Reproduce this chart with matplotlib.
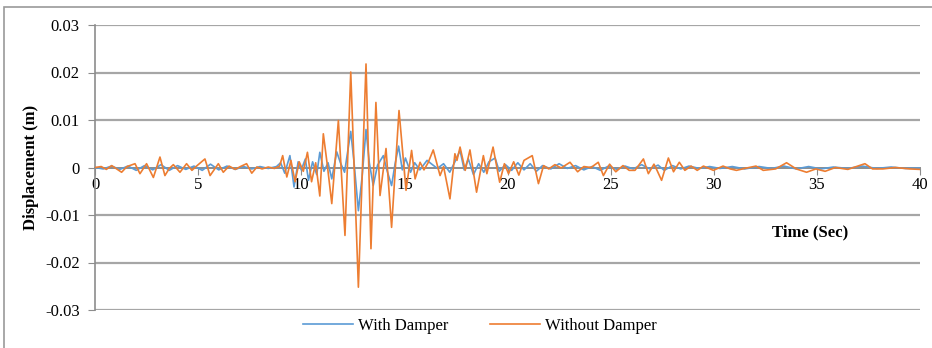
import matplotlib
matplotlib.use("Agg")
import matplotlib.pyplot as plt
import matplotlib.patches as mpatches

plt.rcParams['font.family'] = ['Liberation Serif', 'DejaVu Serif']

# Without damper (orange), extrema
t_without = [
    0.0, 0.3, 0.55, 0.81, 1.05, 1.29, 1.55, 1.94, 2.18, 2.5, 2.83, 3.15, 3.39, 3.6,
    3.8, 4.12, 4.44, 4.7, 4.95, 5.33, 5.58, 5.98, 6.22, 6.5, 6.8, 7.05, 7.35, 7.6,
    7.85, 8.1, 8.4, 8.7, 8.95, 9.1, 9.3, 9.5, 9.7, 9.9, 10.1, 10.3, 10.5, 10.7,
    10.9, 11.07, 11.25, 11.48, 11.8, 12.12, 12.4, 12.77, 13.14, 13.38, 13.62, 13.82,
    14.11, 14.38, 14.74, 15.08, 15.35, 15.52, 15.76, 15.95, 16.15, 16.4, 16.73, 16.9,
    17.21, 17.45, 17.55, 17.7, 17.95, 18.18, 18.5, 18.83, 19.0, 19.3, 19.62, 19.85,
    20.05, 20.3, 20.55, 20.8, 21.2, 21.5, 21.75, 22.0, 22.3, 22.6, 23.03, 23.4,
    23.7, 24.05, 24.4, 24.65, 24.95, 25.25, 25.6, 25.9, 26.18, 26.59, 26.83, 27.1,
    27.25, 27.47, 27.8, 28.05, 28.33, 28.6, 28.9, 29.2, 29.5, 29.98, 30.45, 30.8,
    31.1, 31.6, 32.05, 32.4, 33.0, 33.53, 34.0, 34.5, 34.95, 35.4, 35.9, 36.5,
    37.33, 37.7, 38.2, 38.8, 39.5, 40.0,
]
d_without = [
    0.0, 0.0002, -0.0004, 0.0004, -0.0003, -0.0010, 0.0002, 0.0008, -0.0013, 0.0008,
    -0.0021, 0.0022, -0.0017, -0.0002, 0.0006, -0.0010, 0.0008, -0.0006, 0.0004,
    0.0018, -0.0017, 0.0008, -0.0010, 0.0003, -0.0004, 0.0002, 0.0008, -0.0012,
    0.0001, -0.0003, 0.0001, -0.0002, 0.0003, 0.0025, -0.0020, 0.0015, -0.0030,
    0.0012, -0.0008, 0.0032, -0.0030, 0.0010, -0.0060, 0.0071, 0.0010, -0.0076,
    0.0099, -0.0143, 0.0201, -0.0252, 0.0218, -0.0171, 0.0137, -0.0059, 0.0040,
    -0.0126, 0.0120, -0.0048, 0.0036, -0.0024, 0.0011, -0.0005, 0.0010, 0.0037,
    -0.0017, 0.0002, -0.0066, 0.0029, 0.0015, 0.0043, -0.0006, 0.0037, -0.0052,
    0.0025, -0.0013, 0.0043, -0.0031, 0.0008, -0.0013, 0.0012, -0.0016, 0.0015,
    0.0025, -0.0034, 0.0004, -0.0003, 0.0006, -0.0001, 0.0011, -0.0009, 0.0002,
    0.0000, 0.0011, -0.0017, 0.0007, -0.0009, 0.0004, -0.0006, -0.0006, 0.0018,
    -0.0013, 0.0007, -0.0006, -0.0027, 0.0020, -0.0009, 0.0011, -0.0006, 0.0003,
    -0.0006, 0.0003, -0.0006, 0.0003, -0.0003, -0.0006, -0.0001, 0.0003, -0.0006,
    -0.0003, 0.0010, -0.0003, -0.0010, -0.0003, -0.0008, 0.0000, -0.0004, 0.0008,
    -0.0003, -0.0003, 0.0000, -0.0003, -0.0004,
]

# With damper (blue)
t_with = [
    0.0, 0.4, 0.8, 1.2, 1.6, 2.0, 2.4, 2.8, 3.2, 3.6, 4.0, 4.4, 4.8, 5.2, 5.6, 6.0,
    6.4, 6.8, 7.2, 7.6, 8.0, 8.4, 8.8, 9.0, 9.2, 9.45, 9.65, 9.85, 10.0, 10.2, 10.35,
    10.55, 10.75, 10.9, 11.1, 11.3, 11.48, 11.72, 11.9, 12.1, 12.4, 12.55, 12.77,
    12.95, 13.14, 13.3, 13.49, 13.7, 13.98, 14.15, 14.38, 14.55, 14.72, 14.9, 15.05,
    15.3, 15.5, 15.75, 16.1, 16.3, 16.6, 16.9, 17.2, 17.45, 17.7, 17.9, 18.1, 18.35,
    18.6, 18.85, 19.1, 19.4, 19.6, 19.9, 20.2, 20.5, 20.8, 21.1, 21.4, 21.7, 22.1,
    22.5, 22.9, 23.3, 23.7, 24.1, 24.5, 24.9, 25.3, 25.7, 26.1, 26.5, 26.9, 27.3,
    27.6, 28.0, 28.4, 28.8, 29.3, 29.8, 30.3, 30.9, 31.5, 32.2, 32.8, 33.4, 34.0,
    34.6, 35.2, 35.8, 36.5, 37.2, 37.9, 38.6, 39.3, 40.0,
]
d_with = [
    0.0, -0.0003, 0.0003, -0.0004, 0.0003, -0.0006, 0.0004, -0.0005, 0.0006, -0.0006,
    0.0004, -0.0004, 0.0003, -0.0006, 0.0007, -0.0005, 0.0003, -0.0004, 0.0002,
    -0.0003, 0.0002, -0.0002, 0.0002, 0.0010, -0.0012, 0.0025, -0.0041, 0.0012,
    -0.0005, 0.0018, -0.0027, 0.0012, -0.0015, 0.0032, -0.0008, 0.0010, -0.0024,
    0.0033, 0.0010, -0.0010, 0.0076, 0.0015, -0.0091, -0.0020, 0.0080, 0.0010,
    -0.0038, 0.0005, 0.0025, -0.0005, -0.0038, 0.0008, 0.0045, -0.0005, 0.0020,
    -0.0010, 0.0010, -0.0005, 0.0015, 0.0008, -0.0002, 0.0008, -0.0010, 0.0012,
    0.0036, -0.0005, 0.0018, -0.0015, 0.0008, -0.0010, 0.0012, 0.0020, -0.0008,
    0.0006, -0.0006, 0.0010, -0.0005, 0.0008, -0.0008, 0.0004, -0.0003, 0.0008,
    -0.0002, 0.0004, -0.0005, 0.0002, -0.0006, 0.0003, -0.0004, 0.0003, -0.0003,
    0.0006, -0.0003, 0.0005, -0.0006, 0.0004, -0.0003, 0.0003, -0.0002, 0.0002,
    -0.0002, 0.0002, -0.0003, 0.0002, -0.0002, 0.0003, -0.0003, 0.0002, -0.0003,
    0.0001, -0.0002, 0.0003, -0.0002, 0.0001, -0.0002, -0.0001,
]

x_ticks = [0, 5, 10, 15, 20, 25, 30, 35, 40]
y_ticks = [-0.03, -0.02, -0.01, 0, 0.01, 0.02, 0.03]
y_labels = ['-0.03', '-0.02', '-0.01', '0', '0.01', '0.02', '0.03']

BLUE = '#5B9BD5'
ORANGE = '#ED7D31'
GRID = '#A6A6A6'

fig = plt.figure(figsize=(9.32, 3.48), dpi=100)

# outer chart frame
fig.patches.append(mpatches.Rectangle((4 / 932, -0.05), 1.1, 1 - 7 / 348 + 0.05,
                                      transform=fig.transFigure, fill=False,
                                      edgecolor='#9A9A9A', linewidth=1.2))

ax = fig.add_axes([95 / 932, 1 - 310 / 348, 825 / 932, 285 / 348])

line_with, = ax.plot(t_with, d_with, color=BLUE, linewidth=1.2,
                     label='With Damper', zorder=3)
line_without, = ax.plot(t_without, d_without, color=ORANGE, linewidth=1.2,
                        label='Without Damper', zorder=4)

ax.set_xlim(0, 40)
ax.set_ylim(-0.03, 0.03)
ax.set_xticks(x_ticks)
ax.set_xticklabels([str(v) for v in x_ticks])
ax.set_yticks(y_ticks)
ax.set_yticklabels(y_labels)

for v in y_ticks:
    if v != 0:
        ax.axhline(v, color=GRID, linewidth=1.6, zorder=1)

for s in ['top', 'right']:
    ax.spines[s].set_visible(False)
ax.spines['bottom'].set_position(('data', 0))
ax.spines['bottom'].set_color('#8C8C8C')
ax.spines['bottom'].set_linewidth(1.4)
ax.spines['left'].set_color('#8C8C8C')
ax.spines['left'].set_linewidth(1.2)

ax.tick_params(axis='x', direction='out', length=5, color='#8C8C8C', labelsize=12, pad=2)
ax.tick_params(axis='y', direction='out', length=5, color='#8C8C8C', labelsize=12, pad=6)

ax.set_ylabel('Displacement (m)', fontsize=12, fontweight='bold', labelpad=4)
ax.text(36.5, -0.0137, 'Time (Sec)', fontsize=12, fontweight='bold', ha='right', va='center')

fig.legend(handles=[line_with, line_without], loc='center',
           bbox_to_anchor=(0.515, 1 - 326 / 348),
           ncol=2, frameon=False, fontsize=12, handlelength=3.0, columnspacing=2.5,
           handletextpad=0.3)

fig.savefig('out.png', dpi=100)
